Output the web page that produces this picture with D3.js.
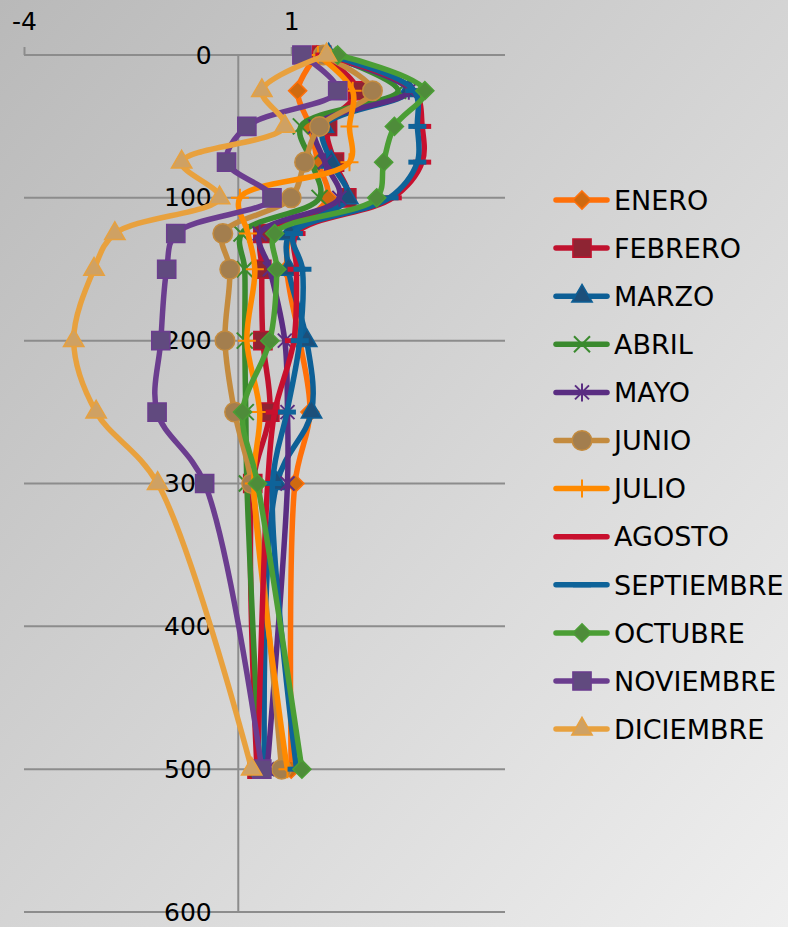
<!DOCTYPE html>
<html>
<head>
<meta charset="utf-8">
<script src="https://d3js.org/d3.v7.min.js"></script>
<style>
  body { margin: 0; padding: 0; overflow: hidden; }
  svg { display: block; }
</style>
</head>
<body>
<svg></svg>
<script>
// depth of each sample (y axis) and value per month (x axis)
const depths = [0, 25, 50, 75, 100, 125, 150, 200, 250, 300, 500];
const months = ["ENERO", "FEBRERO", "MARZO", "ABRIL", "MAYO", "JUNIO", "JULIO", "AGOSTO", "SEPTIEMBRE", "OCTUBRE", "NOVIEMBRE", "DICIEMBRE"];
const enero = [1.48, 1.12, 1.35, 1.5, 1.68, 1.0, 0.92, 1.16, 1.35, 1.07, 1.0];
const febrero = [1.57, 2.24, 1.68, 1.81, 2.04, 0.47, 0.45, 0.47, 0.6, 0.28, 0.36];
const marzo = [1.7, 3.2, 1.6, 1.75, 2.06, 0.97, 0.95, 1.29, 1.38, 0.73, 0.5];
const abril = [1.7, 3.0, 1.18, 1.38, 1.53, 0.07, 0.13, 0.13, 0.15, 0.17, 0.41];
const mayo = [1.6, 3.2, 1.45, 1.63, 1.9, 0.41, 0.6, 0.88, 0.93, 0.93, 0.55];
const junio = [1.6, 2.52, 1.53, 1.25, 1.0, -0.28, -0.15, -0.24, -0.06, 0.26, 0.82];
const julio = [1.5, 2.15, 2.09, 2.09, 0.04, 0.19, 0.32, 0.17, 0.41, 0.3, 0.93];
const agosto = [1.62, 3.3, 3.45, 3.45, 2.9, 1.1, 1.1, 1.05, 0.69, 0.56, 0.37];
const septiembre = [1.7, 3.3, 3.36, 3.36, 2.84, 1.05, 1.21, 1.16, 0.92, 0.65, 1.1];
const octubre = [1.87, 3.5, 2.93, 2.73, 2.6, 0.69, 0.73, 0.6, 0.09, 0.37, 1.2];
const noviembre = [1.2, 1.87, 0.17, -0.21, 0.64, -1.16, -1.33, -1.44, -1.51, -0.62, 0.45];
const diciembre = [1.66, 0.45, 0.88, -1.05, -0.34, -2.3, -2.69, -3.07, -2.65, -1.5, 0.26];
const seriesValues = [enero, febrero, marzo, abril, mayo, junio, julio, agosto, septiembre, octubre, noviembre, diciembre];

const xTicks = [-4, 1];
const yTicks = [0, 100, 200, 300, 400, 500, 600];

// look of every month: line color, marker type, marker fill
const lineColors = ["#ff7009", "#c0122e", "#0d5f96", "#3a8a2e", "#5a2d82", "#c48b3e", "#ff8a00", "#c8102e", "#0e6399", "#4b9e35", "#6b3d8f", "#e8a13e"];
const markerTypes = ["diamond", "square", "triangle", "x", "star", "circle", "plus", "dash", "dash", "diamond", "square", "triangle"];
const markerFills = ["#cf6a10", "#8e2433", "#1c4f7a", "#3a8a2e", "#5a2d82", "#a37e4e", "#ff8a00", "#c8102e", "#0e6399", "#4e8c3a", "#614a7f", "#cfa163"];

const width = 788;
const height = 927;
const fontFamily = "'DejaVu Sans', Verdana, sans-serif";
const gridColor = "#8c8c8c";

var svg = d3.select("svg")
  .attr("width", width)
  .attr("height", height);

// gray background gradient
var defs = svg.append("defs");
var grad = defs.append("linearGradient")
  .attr("id", "bg")
  .attr("x1", 0).attr("y1", 0)
  .attr("x2", 1).attr("y2", 1);
grad.append("stop").attr("offset", "0%").attr("stop-color", "#b9b9b9");
grad.append("stop").attr("offset", "100%").attr("stop-color", "#efefef");

svg.append("rect")
  .attr("width", width)
  .attr("height", height)
  .style("fill", "url(#bg)");

var x = d3.scaleLinear().domain([-4, 5]).range([24, 505]);
var y = d3.scaleLinear().domain([0, 600]).range([55, 912]);

var g = svg.append("g");

// horizontal grid lines
g.append("g")
  .selectAll("line")
  .data(yTicks)
  .enter().append("line")
  .attr("x1", x.range()[0])
  .attr("x2", x.range()[1])
  .attr("y1", d => y(d))
  .attr("y2", d => y(d))
  .style("stroke", gridColor)
  .style("stroke-width", 2);

// x axis on top (the 0 gridline works as its line)
var xAxis = g.append("g")
  .attr("transform", `translate(0,${y(0)})`)
  .call(d3.axisTop(x).tickValues(xTicks).tickFormat(d => String(d)).tickSize(8).tickSizeOuter(0).tickPadding(17));
xAxis.select(".domain").remove();
xAxis.selectAll(".tick line").style("stroke", gridColor).style("stroke-width", 2);
xAxis.selectAll(".tick text")
  .style("font-family", fontFamily)
  .style("font-size", "25px")
  .style("fill", "#000");

// y axis (depth) crossing at x = 0
var yAxis = g.append("g")
  .attr("transform", `translate(${x(0)},0)`)
  .call(d3.axisLeft(y).tickValues(yTicks).tickSize(0).tickPadding(26));
yAxis.select(".domain").style("stroke", gridColor).style("stroke-width", 2);
yAxis.selectAll(".tick text")
  .style("font-family", fontFamily)
  .style("font-size", "25px")
  .style("fill", "#000");

//smoothed lines, like excel
var line = d3.line()
  .x(d => x(d.v))
  .y(d => y(d.depth))
  .curve(d3.curveCatmullRom.alpha(0.5));

function markerPath(type) {
  switch (type) {
    case "diamond": return d3.symbol().type(d3.symbolDiamond2).size(210)();
    case "square": return d3.symbol().type(d3.symbolSquare).size(330)();
    case "triangle": return d3.symbol().type(d3.symbolTriangle).size(180)();
    case "circle": return d3.symbol().type(d3.symbolCircle).size(300)();
    case "x": return "M-8,-8L8,8M-8,8L8,-8";
    case "plus": return "M-9,0L9,0M0,-9L0,9";
    case "star": return "M-7,-7L7,7M-7,7L7,-7M0,-9L0,9";
    case "dash": return "M-9,0L9,0";
  }
}

function drawMarker(sel, i) {
  var type = markerTypes[i];
  var open = type == "x" || type == "plus" || type == "star" || type == "dash";
  sel.attr("d", markerPath(type))
    .style("fill", open ? "none" : markerFills[i])
    .style("stroke", open ? markerFills[i] : lineColors[i])
    .style("stroke-width", type == "dash" ? 5 : (open ? 2 : 1.5));
}

seriesValues.forEach((vals, i) => {
  var pts = vals.map((v, k) => ({ v: v, depth: depths[k] }));
  var s = g.append("g").attr("class", "series");
  s.append("path")
    .datum(pts)
    .attr("d", line)
    .style("fill", "none")
    .style("stroke", lineColors[i])
    .style("stroke-width", 5.5)
    .style("stroke-linejoin", "round")
    .style("stroke-linecap", "round");
  s.selectAll(".mk")
    .data(pts)
    .enter().append("path")
    .attr("class", "mk")
    .attr("transform", d => `translate(${x(d.v)},${y(d.depth)})`)
    .call(drawMarker, i);
});

// legend
var legend = svg.append("g").attr("class", "legend");
months.forEach((m, i) => {
  var ly = 200 + i * 48.1;
  var row = legend.append("g").attr("transform", `translate(0,${ly})`);
  row.append("line")
    .attr("x1", 556).attr("x2", 607)
    .style("stroke", lineColors[i])
    .style("stroke-width", 5.5)
    .style("stroke-linecap", "round");
  row.append("path")
    .attr("transform", "translate(582,0)")
    .call(drawMarker, i);
  row.append("text")
    .attr("x", 614)
    .attr("dy", "0.36em")
    .text(m)
    .style("font-family", fontFamily)
    .style("font-size", "27px")
    .style("fill", "#000");
});
</script>
</body>
</html>
